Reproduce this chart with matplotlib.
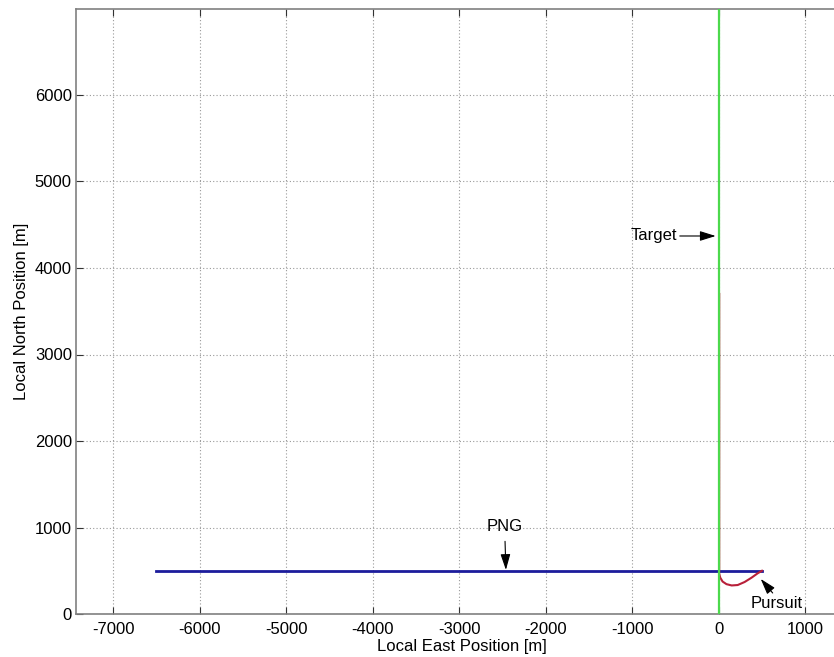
import matplotlib
matplotlib.use("Agg")
import matplotlib.pyplot as plt

plt.rcParams['font.family'] = ['Liberation Sans', 'DejaVu Sans']
plt.rcParams['axes.unicode_minus'] = False

# Data
png_x = [-6500, 500]
png_y = [500, 500]

pursuit_x = [500, 450, 380, 300, 220, 150, 90, 45, 18, 5, 6, 6, 6]
pursuit_y = [500, 470, 420, 370, 335, 330, 345, 375, 420, 470, 500, 2000, 3700]

target_x = [0, 0]
target_y = [0, 7000]

xticks = [-7000, -6000, -5000, -4000, -3000, -2000, -1000, 0, 1000]
yticks = [0, 1000, 2000, 3000, 4000, 5000, 6000]

W, H = 834, 657
fig = plt.figure(figsize=(W / 100, H / 100), dpi=100)
scale = 0.0865  # px per metre
x0, x1 = -7430, 1500
y0, y1 = 0, 7000
left_px, bottom_px = 76, 614
ax = fig.add_axes([left_px / W, (H - bottom_px) / H,
                   (x1 - x0) * scale / W, (y1 - y0) * scale / H])

ax.plot(png_x, png_y, color='#1c1c9c', lw=2.0, zorder=3)
ax.plot(pursuit_x, pursuit_y, color='#b8203a', lw=1.5, zorder=3)
ax.plot(target_x, target_y, color='#4cd94c', lw=1.6, zorder=4)

fs = 12
ax.set_xlim(x0, x1)
ax.set_ylim(y0, y1)
ax.set_xticks(xticks)
ax.set_yticks(yticks)
ax.tick_params(axis='x', pad=6)
ax.tick_params(axis='y', pad=3)
ax.tick_params(direction='in', length=5, top=True, right=True, labelsize=fs,
               color='#333333')
ax.grid(True, linestyle=(0, (1, 2)), color='#999999', lw=0.8)
for s in ax.spines.values():
    s.set_color('#808080')
    s.set_linewidth(1.2)

ax.set_xlabel('Local East Position [m]', fontsize=fs, labelpad=1)
ax.set_ylabel('Local North Position [m]', fontsize=fs, labelpad=4)

arrow = dict(arrowstyle='-|>,head_length=0.8,head_width=0.25', color='black',
             lw=0.8, mutation_scale=12, shrinkA=0, shrinkB=0)
ax.annotate('', xy=(-35, 4370), xytext=(-450, 4370), arrowprops=arrow)
ax.text(-480, 4370, 'Target', ha='right', va='center', fontsize=fs)

ax.annotate('', xy=(-2460, 510), xytext=(-2470, 840), arrowprops=arrow)
ax.text(-2474, 930, 'PNG', ha='center', va='bottom', fontsize=fs)

ax.annotate('', xy=(486, 405), xytext=(624, 243), arrowprops=arrow)
ax.text(670, 127, 'Pursuit', ha='center', va='center', fontsize=fs)

fig.savefig('out.png', dpi=100)
